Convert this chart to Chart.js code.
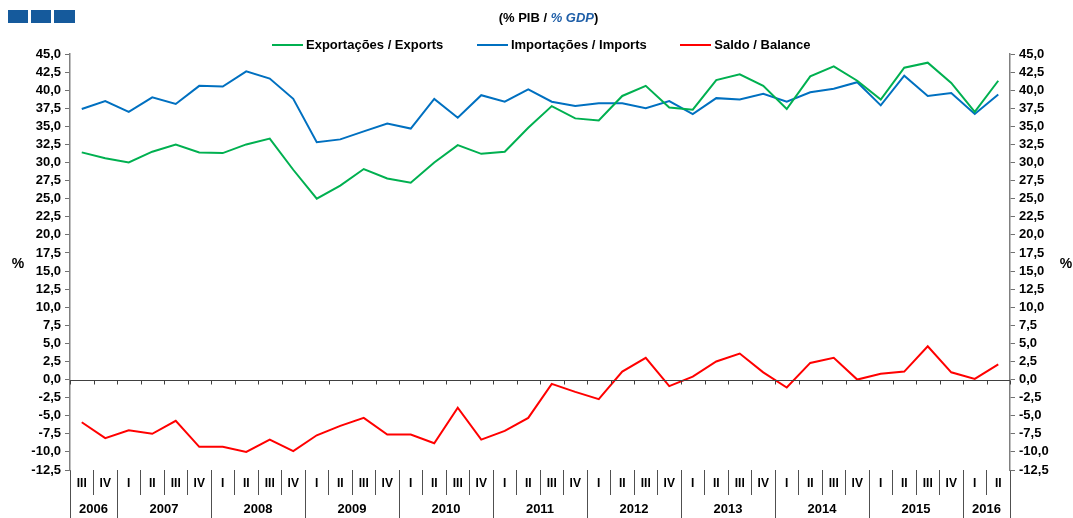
<!DOCTYPE html>
<html>
<head>
<meta charset="utf-8">
<script src="https://cdn.jsdelivr.net/npm/chart.js@4.4.1/dist/chart.umd.min.js"></script>
<style>
  body { margin: 0; background: #fff; font-family: "Liberation Sans", Arial, sans-serif; }
  #wrap { position: relative; width: 1073px; height: 518px; }
  canvas { position: absolute; left: 0; top: 0; }
  .box { position: absolute; top: 10px; height: 13px; background: #155a9c; }
  #sub { position: absolute; top: 10px; left: 0; width: 1097px; text-align: center; font-weight: bold; font-size: 13px; }
  #sub i { color: #1f5fa8; }
  #legend { position: absolute; top: 36px; left: 272px; font-weight: bold; font-size: 13px; white-space: nowrap; }
  #legend span { display: inline-block; vertical-align: middle; }
  .sw { width: 31px; height: 2px; margin-right: 3px; }
</style>
</head>
<body>
<div id="wrap">
  <canvas id="chartLine" width="1073" height="518"></canvas>
  <div class="box" style="left:8px;width:20px"></div>
  <div class="box" style="left:31px;width:20px"></div>
  <div class="box" style="left:54px;width:21px"></div>
  <div id="sub">(% PIB / <i>% GDP</i>)</div>
  <div id="legend">
    <span class="sw" style="background:#00b050"></span><span>Exportações / Exports</span>
    <span class="sw" style="background:#0070c0;margin-left:30px"></span><span>Importações / Imports</span>
    <span class="sw" style="background:#ff0000;margin-left:30px"></span><span>Saldo / Balance</span>
  </div>
</div>
<script>
// quarters from 2006 III to 2016 II
var quarters = ["III", "IV",
    "I", "II", "III", "IV", "I", "II", "III", "IV", "I", "II", "III", "IV",
    "I", "II", "III", "IV", "I", "II", "III", "IV", "I", "II", "III", "IV",
    "I", "II", "III", "IV", "I", "II", "III", "IV", "I", "II", "III", "IV",
    "I", "II"];
var years = ["2006", "2007", "2008", "2009", "2010", "2011", "2012", "2013", "2014", "2015", "2016"];

var exportsData = [31.4, 30.6, 30.0, 31.5, 32.5, 31.4, 31.3, 32.5, 33.3, 29.0,
    25.0, 26.8, 29.1, 27.8, 27.2, 30.0, 32.4, 31.2, 31.5, 34.8,
    37.8, 36.1, 35.8, 39.2, 40.6, 37.6, 37.3, 41.4, 42.2, 40.6,
    37.4, 41.9, 43.3, 41.3, 38.7, 43.1, 43.8, 41.0, 37.0, 41.3];
var importsData = [37.4, 38.5, 37.0, 39.0, 38.1, 40.6, 40.5, 42.6, 41.6, 38.8,
    32.8, 33.2, 34.3, 35.4, 34.7, 38.8, 36.2, 39.3, 38.4, 40.1,
    38.4, 37.8, 38.2, 38.2, 37.5, 38.5, 36.7, 38.9, 38.7, 39.5,
    38.4, 39.7, 40.2, 41.1, 37.9, 42.0, 39.2, 39.6, 36.7, 39.4];
var balanceData = [-5.9, -8.1, -7.0, -7.5, -5.7, -9.3, -9.3, -10.0, -8.3, -9.9,
    -7.7, -6.4, -5.3, -7.6, -7.6, -8.8, -3.9, -8.3, -7.1, -5.3,
    -0.6, -1.7, -2.7, 1.1, 3.0, -0.9, 0.4, 2.5, 3.6, 1.0,
    -1.1, 2.3, 3.0, 0.0, 0.8, 1.1, 4.6, 1.0, 0.1, 2.1];

var tickFont = { family: "Liberation Sans", size: 13, weight: "bold" };

function fmt(v) {
    return v.toFixed(1).replace(".", ",");
}

var extras = {
    id: "extras",
    afterDraw: function (chart) {
        var c = chart.ctx;
        var xs = chart.scales.x;
        var ys = chart.scales.y;
        var area = chart.chartArea;
        var step = xs.getPixelForValue(1) - xs.getPixelForValue(0);
        var y0 = Math.round(ys.getPixelForValue(0)) + 0.5;
        c.save();
        c.strokeStyle = "#404040";
        c.lineWidth = 1;
        // zero line and its little ticks
        c.beginPath();
        c.moveTo(area.left, y0);
        c.lineTo(area.right, y0);
        c.stroke();
        for (var i = 0; i <= quarters.length; i++) {
            var bx = Math.round(xs.getPixelForValue(0) - step / 2 + i * step) + 0.5;
            c.beginPath();
            c.moveTo(bx, y0);
            c.lineTo(bx, y0 + 4);
            c.stroke();
        }
        // year separators and labels
        c.strokeStyle = "#505050";
        var starts = [0];
        for (var j = 1; j < quarters.length; j++) {
            if (quarters[j] === "I") starts.push(j);
        }
        starts.push(quarters.length);
        c.fillStyle = "#000";
        c.font = "bold 13px 'Liberation Sans'";
        c.textAlign = "center";
        c.textBaseline = "middle";
        for (var k = 0; k < starts.length; k++) {
            var sx = Math.round(xs.getPixelForValue(starts[k]) - step / 2) + 0.5;
            c.beginPath();
            c.moveTo(sx, area.bottom + 24);
            c.lineTo(sx, 518);
            c.stroke();
            if (k < starts.length - 1) {
                var mid = (xs.getPixelForValue(starts[k]) + xs.getPixelForValue(starts[k + 1] - 1)) / 2;
                c.fillText(years[k], mid, 509);
            }
        }
        c.font = "bold 14px 'Liberation Sans'";
        c.fillText("%", 18, 264);
        c.fillText("%", 1066, 264);
        c.restore();
    }
};

var yAxis = function (pos) {
    return {
        position: pos,
        min: -12.5,
        max: 45,
        ticks: {
            stepSize: 2.5,
            autoSkip: false,
            color: "#000",
            font: tickFont,
            padding: 4,
            callback: function (v) { return fmt(v); }
        },
        border: { color: "#808080", width: 1.5 },
        grid: {
            drawOnChartArea: false,
            tickColor: "#707070",
            tickLength: 5
        },
        afterFit: function (s) { s.width = pos === "left" ? 70 : 63; }
    };
};

new Chart(document.getElementById("chartLine"), {
    type: "line",
    data: {
        labels: quarters,
        datasets: [
            { label: "Exportações / Exports", data: exportsData, borderColor: "#00b050", yAxisID: "y" },
            { label: "Importações / Imports", data: importsData, borderColor: "#0070c0", yAxisID: "y" },
            { label: "Saldo / Balance", data: balanceData, borderColor: "#ff0000", yAxisID: "y" }
        ]
    },
    options: {
        responsive: false,
        animation: false,
        devicePixelRatio: 1,
        layout: { padding: { top: 54, left: 0, right: 0, bottom: 0 } },
        elements: {
            point: { radius: 0 },
            line: { borderWidth: 2, tension: 0 }
        },
        plugins: {
            legend: { display: false },
            tooltip: { enabled: false }
        },
        scales: {
            x: {
                offset: true,
                border: { display: false },
                grid: {
                    offset: true,
                    drawOnChartArea: false,
                    tickColor: "#505050",
                    tickLength: 25
                },
                ticks: {
                    autoSkip: false,
                    maxRotation: 0,
                    color: "#000",
                    font: { family: "Liberation Sans", size: 12, weight: "bold" },
                    padding: -19
                },
                afterFit: function (s) { s.height = 48; }
            },
            y: yAxis("left"),
            y2: yAxis("right")
        }
    },
    plugins: [extras]
});
</script>
</body>
</html>
